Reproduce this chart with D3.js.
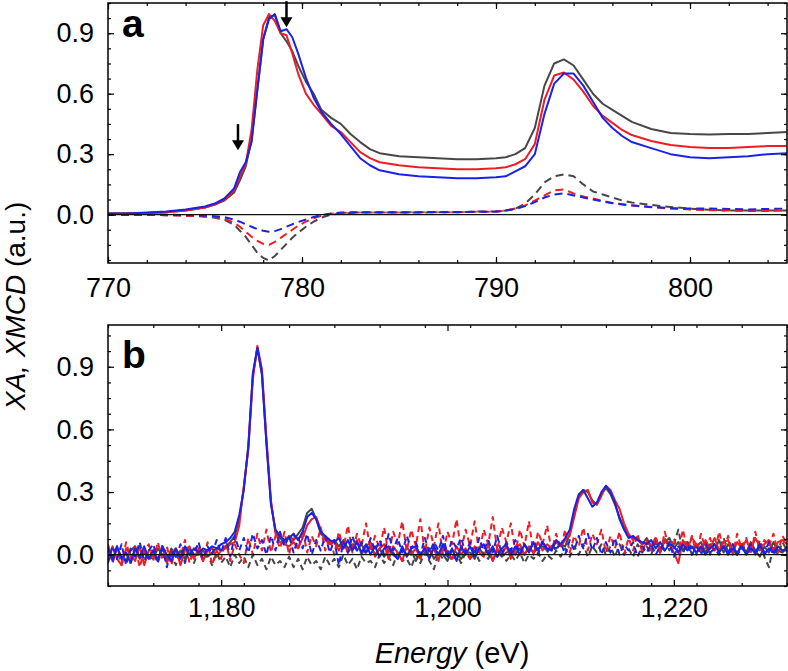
<!DOCTYPE html>
<html>
<head>
<meta charset="utf-8">
<script src="https://cdn.jsdelivr.net/npm/d3@7"></script>
<style>
  body { margin: 0; background: #fff; }
  svg text { font-family: "Liberation Sans", Arial, Helvetica, sans-serif; }
</style>
</head>
<body>
<script>
// ---------------- DATA ----------------
// Panel a (L-edge region), energies in eV
const energyA = [770,771,772,773,774,775,775.5,776,776.5,776.8,777.1,777.4,777.7,778.0,778.3,778.6,778.9,779.2,779.5,779.8,780.2,780.6,781.0,781.5,782,782.5,783,783.5,784,785,786,787,788,789,790,790.5,791,791.5,792,792.5,793,793.5,794,794.5,795,795.5,796,796.5,797,798,799,800,801,802,803,804,805];

const aXA_black = [.005,.005,.008,.012,.02,.035,.05,.07,.11,.17,.24,.37,.62,.87,.98,.99,.9,.86,.81,.74,.66,.6,.52,.48,.45,.4,.36,.325,.305,.29,.285,.28,.275,.275,.28,.285,.3,.33,.43,.64,.75,.77,.74,.67,.6,.55,.52,.49,.46,.425,.405,.4,.398,.4,.4,.405,.41];
const aXA_red   = [.005,.005,.008,.012,.02,.035,.05,.075,.12,.19,.25,.42,.72,.94,.995,.96,.9,.89,.8,.7,.6,.545,.5,.44,.41,.36,.31,.28,.26,.245,.235,.23,.225,.225,.23,.235,.25,.275,.35,.57,.69,.705,.67,.61,.54,.49,.455,.42,.395,.365,.345,.335,.33,.33,.335,.34,.34];
const aXA_blue  = [.005,.006,.01,.015,.025,.04,.055,.08,.13,.21,.26,.36,.62,.87,.97,.995,.91,.92,.88,.8,.68,.58,.51,.45,.4,.34,.28,.245,.22,.2,.19,.185,.18,.18,.185,.19,.215,.24,.3,.5,.65,.7,.7,.64,.56,.48,.43,.39,.36,.33,.3,.285,.28,.285,.29,.3,.305];

const aXMCD_black = [0,0,0,-.003,-.005,-.01,-.015,-.025,-.05,-.08,-.11,-.15,-.19,-.215,-.228,-.205,-.175,-.145,-.115,-.09,-.06,-.035,-.015,0,.005,.008,.01,.01,.01,.01,.01,.012,.012,.015,.015,.02,.03,.055,.1,.16,.19,.2,.19,.15,.115,.1,.085,.07,.06,.048,.038,.03,.024,.02,.02,.02,.02];
const aXMCD_red   = [0,0,0,-.003,-.005,-.008,-.012,-.02,-.04,-.06,-.085,-.11,-.13,-.145,-.15,-.135,-.115,-.095,-.075,-.055,-.035,-.018,-.005,.004,.008,.01,.01,.01,.01,.01,.012,.012,.012,.014,.015,.02,.03,.045,.07,.095,.12,.125,.105,.09,.08,.068,.058,.05,.045,.037,.03,.026,.022,.02,.018,.018,.02];
const aXMCD_blue  = [0,0,.002,0,-.002,-.005,-.008,-.012,-.025,-.035,-.048,-.06,-.072,-.08,-.085,-.082,-.072,-.06,-.048,-.037,-.024,-.012,-.002,.006,.01,.012,.012,.012,.012,.012,.012,.013,.013,.014,.015,.02,.028,.042,.062,.085,.1,.106,.095,.085,.075,.065,.057,.052,.046,.038,.032,.03,.03,.028,.026,.028,.03];

// Panel b (K-edge region): uniform grid from 1170 eV in 0.4 eV steps (151 points)
const energyBStart = 1170, energyBStep = 0.4;
const bXA_black = [
 .04,-.02,.03,-.01,-.03,.02,.04,-.02,.01,-.01,
 -.02,.03,.00,-.03,.03,-.01,.02,-.02,.03,.00,
 .00,.02,-.01,.01,.03,.02,.04,.06,.09,.17,
 .32,.52,.86,.99,.86,.54,.25,.11,.08,.06,
 .09,.07,.10,.13,.20,.22,.17,.10,.08,.06,
 .07,.04,.07,.03,.05,.02,.05,.01,.04,.00,
 .03,-.01,.02,.01,-.02,.03,.00,.02,-.03,.01,
 .00,.03,-.02,.01,.00,-.03,.02,.01,-.02,.01,
 .01,-.02,.03,.00,.02,-.03,.02,-.01,.01,.02,
 .00,.03,.00,.03,.01,.03,.04,.02,.04,.03,
 .05,.04,.10,.20,.28,.31,.30,.26,.24,.29,
 .32,.29,.24,.18,.13,.09,.08,.07,.05,.08,
 .04,.07,.03,.06,.08,.03,.06,.02,.06,.03,
 .04,.06,.01,.05,.02,.07,.01,.05,.02,.00,
 .05,.01,.06,.02,-.01,.04,.01,.06,.02,.01,
 .04];
const bXA_red = [
 -.03,.04,-.02,-.05,.03,.00,-.03,.04,-.05,.02,
 .02,-.03,.04,-.04,.01,.03,-.05,.02,.04,-.02,
 .03,-.03,.02,.03,-.01,.02,.03,.05,.06,.14,
 .33,.50,.84,1.0,.89,.56,.26,.10,.06,.05,
 .04,.06,.03,.08,.14,.17,.18,.12,.07,.05,
 .06,.02,.06,.01,.04,.07,.00,.04,.06,-.01,
 .03,.05,-.02,.04,.01,-.03,.04,.00,.03,-.02,
 .04,-.01,.03,-.03,.05,.01,-.02,.04,.00,.03,
 -.02,.04,.01,-.01,.05,-.03,.03,.00,.04,-.02,
 .03,.05,.00,.04,.01,.06,.02,.05,.03,.06,
 .04,.07,.09,.18,.27,.30,.31,.25,.24,.28,
 .33,.31,.26,.22,.15,.10,.07,.08,.05,.06,
 .04,.08,.02,.07,.05,.01,-.04,.07,.03,.08,
 .05,.02,.07,.03,.08,.02,.06,.07,.01,.06,
 .03,.07,.02,.08,.04,.05,.07,.02,.06,.07,
 .05];
const bXA_blue = [
 .03,-.03,.04,-.02,.01,-.04,.03,-.01,.04,-.02,
 .02,-.03,.04,.00,-.03,.03,-.02,.04,.00,.03,
 .01,.03,.02,.04,.03,.05,.06,.08,.11,.19,
 .31,.52,.87,.99,.87,.53,.24,.12,.09,.07,
 .08,.10,.07,.11,.18,.20,.17,.11,.09,.07,
 .06,.08,.03,.07,.02,.06,.01,.05,.00,.04,
 -.01,.03,.04,.00,-.02,.04,-.01,.03,.04,.00,
 .03,-.02,.04,.00,.05,-.01,.03,-.03,.04,.00,
 .04,-.01,.03,.05,.00,.04,-.01,.03,.05,.00,
 .04,.00,.05,.01,.06,.02,.06,.03,.02,.07,
 .05,.08,.12,.22,.29,.31,.27,.23,.25,.30,
 .33,.30,.25,.17,.12,.08,.09,.07,.06,.05,
 .07,.03,.06,.02,.05,.04,.01,.05,.02,.04,
 .01,.04,.00,.03,.05,.01,.04,.00,.03,.01,
 .04,.00,.03,.01,.05,.00,.03,.01,.04,.02,
 .02];
const bXMCD_black = [
 .03,-.02,.04,-.03,.01,-.04,.03,-.02,.02,-.03,
 .01,-.04,.03,-.02,.00,-.05,.02,-.03,.01,-.04,
 .02,-.03,.00,-.05,.01,-.04,-.01,-.06,.00,-.04,
 -.01,-.06,.00,-.05,-.02,-.07,-.01,-.05,-.03,-.06,
 -.01,-.06,-.02,-.07,-.01,-.05,-.03,-.07,-.01,-.05,
 -.02,-.06,.00,-.05,-.02,-.07,-.01,-.04,-.03,-.06,
 .00,-.04,-.01,-.05,.01,-.03,-.02,-.06,.00,-.04,
 .01,-.03,-.07,.01,-.02,.02,-.03,.00,-.04,.01,
 -.02,.02,-.03,.01,-.02,.03,-.01,.02,-.03,.00,
 -.03,.01,-.04,.00,-.02,.01,-.03,.00,-.02,.02,
 -.01,.03,-.01,.04,.00,.05,-.01,.04,.01,.05,
 .00,.04,-.01,.05,.00,.03,-.01,.05,.01,.04,
 .00,.06,.01,.08,.02,.05,.12,.01,.06,.00,
 .05,.01,.07,.00,.06,.02,.08,.01,.05,.00,
 .06,.01,.05,.00,.07,-.01,-.06,.04,.00,.06,
 .02];
const bXMCD_red = [
 .05,-.04,.03,-.05,.06,-.02,.04,-.06,.02,.05,
 -.03,.06,-.02,.04,-.05,.03,-.01,.07,-.04,.02,
 .05,-.03,.06,-.05,.02,-.02,.07,-.03,.05,.00,
 -.04,.08,.00,.10,.02,.12,.01,.09,.03,.11,
 .00,.10,.02,.12,.01,.09,.04,.13,.02,.08,
 .00,.11,.03,.14,.01,.10,.04,.15,.02,.09,
 .03,.13,.00,.11,.05,.16,.02,.12,.04,.17,
 .01,.13,.04,.15,.00,.11,.05,.17,.02,.12,
 .04,.16,.01,.12,.05,.18,.02,.13,.06,.15,
 .01,.12,.04,.16,.00,.11,.05,.14,.02,.10,
 .03,.12,.01,.09,.04,.13,.02,.10,.05,.12,
 .01,.09,.03,.11,.00,.08,.02,.10,.01,.07,
 .02,.09,.00,.11,.03,.08,.01,.12,.02,.09,
 .00,.10,.03,.08,.01,.11,.02,.09,.00,.10,
 .03,.08,.00,.11,.02,.07,.04,.10,.01,.09,
 .05];
const bXMCD_blue = [
 -.04,.04,-.02,.05,-.05,.03,-.01,.06,-.03,.02,
 .05,-.03,.04,-.06,.02,-.02,.05,-.04,.03,.00,
 .06,-.02,.04,.00,.07,.01,.08,-.01,.09,.02,
 .08,.01,.10,.03,.07,.00,.09,.02,.11,.04,
 .09,.01,.08,.03,.10,.00,.07,.02,.09,.01,
 .07,-.05,.06,.01,.09,.02,.06,.00,.08,.02,
 .07,.00,.10,.02,.08,.01,.09,.03,.06,.00,
 .08,.01,.06,.02,.09,.00,.07,.03,.08,.01,
 .06,.00,.08,.02,.07,.01,.09,.00,.06,.02,
 .07,.00,.05,.02,.06,.00,.07,.01,.05,.02,
 .06,.00,.07,.02,.09,.03,.10,.02,.08,.00,
 .06,.01,.08,.00,.05,.02,.06,-.01,.04,.01,
 .05,.00,.04,.02,.06,-.01,.04,.01,.05,.00,
 .04,.00,.05,.01,.03,.00,.04,.01,.05,.00,
 .03,.01,.05,.00,.04,.01,.06,.00,.03,.02,
 .03];

// Ticks / labels
const xTicksA = [770, 780, 790, 800];
const xTicksB = [1180, 1200, 1220];
const yTicks = [0, 0.3, 0.6, 0.9];
const panelLabels = ["a", "b"];
// arrows in panel a: energy and tip value
const arrowEnergy = [776.7, 779.2];
const arrowTip = [0.32, 0.93];

// ---------------- DRAW ----------------
const W = 788, H = 671, L = 108, R = 787;
const COL = { black: "#474747", red: "#ee1c24", blue: "#1b22e6" };

const svg = d3.select("body").append("svg").attr("width", W).attr("height", H);
const defs = svg.append("defs");

const energyB = d3.range(bXA_black.length).map(i => +(energyBStart + i * energyBStep).toFixed(2));

function drawPanel(p) {
  const x = d3.scaleLinear().domain(p.xDomain).range([L, R]);
  const y = d3.scaleLinear().domain(p.yDomain).range([p.bottom, p.top]);
  const cid = "clip-" + p.label;
  defs.append("clipPath").attr("id", cid).append("rect")
    .attr("x", L).attr("y", p.top).attr("width", R - L).attr("height", p.bottom - p.top);
  const g = svg.append("g");

  const plot = g.append("g").attr("clip-path", `url(#${cid})`);
  const line = d3.line().x(d => x(d[0])).y(d => y(d[1]));
  p.series.forEach(s => {
    plot.append("path")
      .datum(s.e.map((e, i) => [e, s.v[i]]).filter(d => d[1] !== undefined))
      .attr("d", line).attr("fill", "none")
      .attr("stroke", s.color).attr("stroke-width", 2)
      .attr("stroke-linejoin", "round")
      .attr("stroke-dasharray", s.dash ? p.dash : null);
  });
  // zero line
  g.append("line").attr("x1", L).attr("x2", R).attr("y1", y(0)).attr("y2", y(0))
    .attr("stroke", "#111").attr("stroke-width", 1.2);

  const clean = sel => sel.select(".domain").remove();
  const minorX = d3.range(p.xDomain[0], p.xDomain[1] + 1e-6, p.xMinorStep);
  const minorY = d3.range(-0.3, 1.2, 0.075).filter(v => v >= p.yDomain[0] - 1e-6 && v <= p.yDomain[1] + 1e-6);

  // bottom
  const gb = g.append("g").attr("transform", `translate(0,${p.bottom})`);
  gb.call(d3.axisBottom(x).tickValues(p.xTicks).tickSize(-6).tickPadding(p.xPad).tickFormat(p.xFmt)).call(clean);
  gb.selectAll("text").attr("font-size", 27).attr("fill", "#000").style("font-family", '"Liberation Sans", Arial, sans-serif');
  g.append("g").attr("transform", `translate(0,${p.bottom})`)
    .call(d3.axisBottom(x).tickValues(minorX).tickSize(-3).tickFormat("")).call(clean);
  // top
  g.append("g").attr("transform", `translate(0,${p.top})`)
    .call(d3.axisTop(x).tickValues(p.xTicks).tickSize(-6).tickFormat("")).call(clean);
  g.append("g").attr("transform", `translate(0,${p.top})`)
    .call(d3.axisTop(x).tickValues(minorX).tickSize(-3).tickFormat("")).call(clean);
  // left
  const gl = g.append("g").attr("transform", `translate(${L},0)`);
  gl.call(d3.axisLeft(y).tickValues(yTicks).tickSize(-6).tickPadding(14).tickFormat(d3.format(".1f"))).call(clean);
  gl.selectAll("text").attr("font-size", 27).attr("fill", "#000").style("font-family", '"Liberation Sans", Arial, sans-serif');
  g.append("g").attr("transform", `translate(${L},0)`)
    .call(d3.axisLeft(y).tickValues(minorY).tickSize(-3).tickFormat("")).call(clean);
  // right
  g.append("g").attr("transform", `translate(${R},0)`)
    .call(d3.axisRight(y).tickValues(yTicks).tickSize(-6).tickFormat("")).call(clean);
  g.append("g").attr("transform", `translate(${R},0)`)
    .call(d3.axisRight(y).tickValues(minorY).tickSize(-3).tickFormat("")).call(clean);
  g.selectAll(".tick line").attr("stroke", "#000").attr("stroke-width", 1.2);

  // frame
  g.append("rect").attr("x", L).attr("y", p.top).attr("width", R - L).attr("height", p.bottom - p.top)
    .attr("fill", "none").attr("stroke", "#000").attr("stroke-width", 1.5);

  // panel label
  g.append("text").attr("x", L + 14).attr("y", p.top + p.labelDy)
    .attr("font-size", 39).attr("font-weight", "bold").attr("fill", "#000").text(p.label);

  return { x, y, g };
}

const pa = drawPanel({
  label: panelLabels[0], xDomain: [770, 805], yDomain: [-0.24, 1.05], top: 3, bottom: 263,
  xTicks: xTicksA, xMinorStep: 2, xPad: 15, xFmt: d3.format("d"), labelDy: 34, dash: "8,5",
  series: [
    { e: energyA, v: aXMCD_black, color: COL.black, dash: true },
    { e: energyA, v: aXMCD_red, color: COL.red, dash: true },
    { e: energyA, v: aXMCD_blue, color: COL.blue, dash: true },
    { e: energyA, v: aXA_black, color: COL.black },
    { e: energyA, v: aXA_red, color: COL.red },
    { e: energyA, v: aXA_blue, color: COL.blue }
  ]
});

drawPanel({
  label: panelLabels[1], xDomain: [1170, 1230], yDomain: [-0.15, 1.1], top: 325, bottom: 586,
  xTicks: xTicksB, xMinorStep: 4, xPad: 12, xFmt: d3.format(","), labelDy: 43, dash: "6,4",
  series: [
    { e: energyB, v: bXA_black, color: COL.black },
    { e: energyB, v: bXMCD_black, color: COL.black, dash: true },
    { e: energyB, v: bXA_red, color: COL.red },
    { e: energyB, v: bXMCD_red, color: COL.red, dash: true },
    { e: energyB, v: bXA_blue, color: COL.blue },
    { e: energyB, v: bXMCD_blue, color: COL.blue, dash: true }
  ]
});

// arrows in panel a
arrowEnergy.forEach((e, i) => {
  const ax = pa.x(e), tip = pa.y(arrowTip[i]);
  const len = 26, headL = 10, headW = 6;
  pa.g.append("line").attr("x1", ax).attr("x2", ax).attr("y1", tip - len).attr("y2", tip - headL + 1)
    .attr("stroke", "#000").attr("stroke-width", 2.5);
  pa.g.append("path")
    .attr("d", `M${ax - headW},${tip - headL} L${ax + headW},${tip - headL} L${ax},${tip} Z`)
    .attr("fill", "#000");
});

// axis titles
const yt = svg.append("text").attr("transform", "translate(25,306) rotate(-90)")
  .attr("text-anchor", "middle").attr("font-size", 28).attr("fill", "#000");
yt.append("tspan").attr("font-style", "italic").text("XA, XMCD");
yt.append("tspan").text(" (a.u.)");

const xt = svg.append("text").attr("x", 452).attr("y", 663)
  .attr("text-anchor", "middle").attr("font-size", 29).attr("fill", "#000");
xt.append("tspan").attr("font-style", "italic").text("Energy");
xt.append("tspan").text(" (eV)");
</script>
</body>
</html>
